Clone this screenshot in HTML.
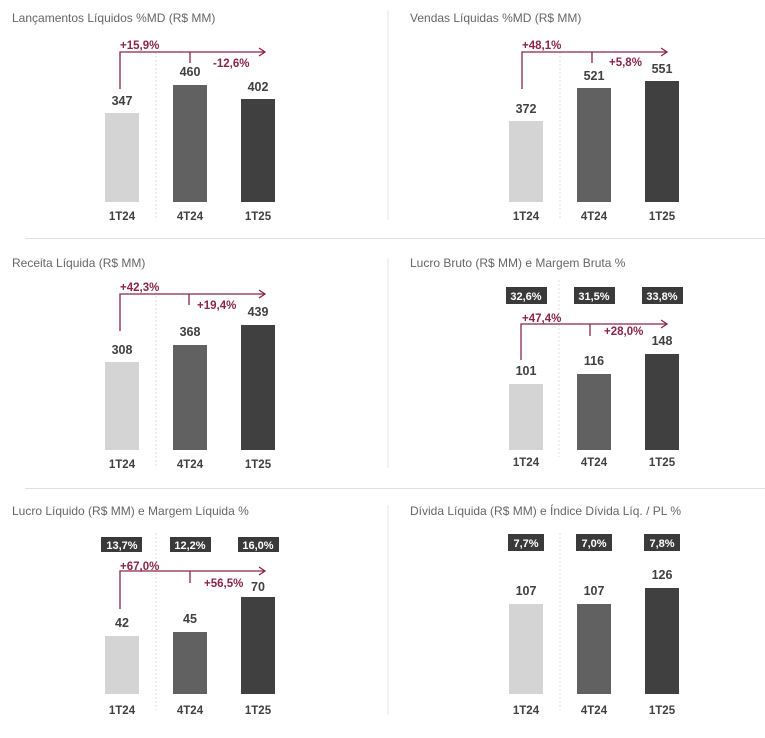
<!DOCTYPE html>
<html><head><meta charset="utf-8"><style>
body{margin:0;background:#fff}
svg{display:block}
.t{font:12px "Liberation Sans",sans-serif;fill:#666}
.v{font:bold 12.5px "Liberation Sans",sans-serif;fill:#404040;text-anchor:middle}
.c{font:bold 11.5px "Liberation Sans",sans-serif;fill:#404040;text-anchor:middle}
.p{font:bold 11.5px "Liberation Sans",sans-serif;fill:#8a2546}
.b{font:bold 11px "Liberation Sans",sans-serif;fill:#fff;text-anchor:middle}
.a{stroke:#8a2546;stroke-width:1.3;fill:none}
.d{stroke:#ddd;stroke-width:1;stroke-dasharray:2,2}
</style></head><body>
<svg width="765" height="738" viewBox="0 0 765 738">
<line x1="388" y1="10" x2="388" y2="220" stroke="#e6e6e6"/>
<line x1="388" y1="258" x2="388" y2="468" stroke="#e6e6e6"/>
<line x1="388" y1="505" x2="388" y2="715" stroke="#e6e6e6"/>
<line x1="25" y1="238.5" x2="765" y2="238.5" stroke="#e0e0e0"/>
<line x1="25" y1="488.5" x2="765" y2="488.5" stroke="#e0e0e0"/>

<!-- Panel 1 -->
<text class="t" x="12" y="22">Lançamentos Líquidos %MD (R$ MM)</text>
<line class="d" x1="156" y1="52" x2="156" y2="218"/>
<rect x="105" y="113" width="34" height="89" fill="#d4d4d4"/>
<rect x="173" y="85" width="34" height="117" fill="#616161"/>
<rect x="241" y="99" width="34" height="103" fill="#404040"/>
<text class="v" x="122" y="105">347</text>
<text class="v" x="190" y="76">460</text>
<text class="v" x="258" y="91">402</text>
<path class="a" d="M120 89V52H264M259 48L265 52L259 56M190 52V63"/>
<text class="p" x="120" y="49">+15,9%</text>
<text class="p" x="213" y="67">-12,6%</text>
<text class="c" x="122" y="220">1T24</text><text class="c" x="190" y="220">4T24</text><text class="c" x="258" y="220">1T25</text>

<!-- Panel 2 -->
<text class="t" x="410" y="22">Vendas Líquidas %MD (R$ MM)</text>
<line class="d" x1="560" y1="52" x2="560" y2="218"/>
<rect x="509" y="121" width="34" height="81" fill="#d4d4d4"/>
<rect x="577" y="88" width="34" height="114" fill="#616161"/>
<rect x="645" y="81" width="34" height="121" fill="#404040"/>
<text class="v" x="526" y="113">372</text>
<text class="v" x="594" y="80">521</text>
<text class="v" x="662" y="73">551</text>
<path class="a" d="M522 89V52H666M661 48L667 52L661 56M592 52V63"/>
<text class="p" x="522" y="49">+48,1%</text>
<text class="p" x="609" y="66">+5,8%</text>
<text class="c" x="526" y="220">1T24</text><text class="c" x="594" y="220">4T24</text><text class="c" x="662" y="220">1T25</text>

<!-- Panel 3 -->
<text class="t" x="12" y="267">Receita Líquida (R$ MM)</text>
<line class="d" x1="156" y1="292" x2="156" y2="467"/>
<rect x="105" y="362" width="34" height="88" fill="#d4d4d4"/>
<rect x="173" y="345" width="34" height="105" fill="#616161"/>
<rect x="241" y="325" width="34" height="125" fill="#404040"/>
<text class="v" x="122" y="354">308</text>
<text class="v" x="190" y="336">368</text>
<text class="v" x="258" y="316">439</text>
<path class="a" d="M120 331V294H264M259 290L265 294L259 298M189 294V305"/>
<text class="p" x="120" y="291">+42,3%</text>
<text class="p" x="197" y="309">+19,4%</text>
<text class="c" x="122" y="468">1T24</text><text class="c" x="190" y="468">4T24</text><text class="c" x="258" y="468">1T25</text>

<!-- Panel 4 -->
<text class="t" x="410" y="267">Lucro Bruto (R$ MM) e Margem Bruta %</text>
<line class="d" x1="559" y1="280" x2="559" y2="457"/>
<rect x="506" y="287" width="41" height="17" fill="#3a3a3a"/><text class="b" x="526" y="300">32,6%</text>
<rect x="574" y="287" width="41" height="17" fill="#3a3a3a"/><text class="b" x="594" y="300">31,5%</text>
<rect x="642" y="287" width="41" height="17" fill="#3a3a3a"/><text class="b" x="662" y="300">33,8%</text>
<rect x="509" y="384" width="34" height="66" fill="#d4d4d4"/>
<rect x="577" y="374" width="34" height="76" fill="#616161"/>
<rect x="645" y="354" width="34" height="96" fill="#404040"/>
<text class="v" x="526" y="375">101</text>
<text class="v" x="594" y="365">116</text>
<text class="v" x="662" y="345">148</text>
<path class="a" d="M521 360V324H666M661 320L667 324L661 328M590 324V336"/>
<text class="p" x="522" y="322">+47,4%</text>
<text class="p" x="604" y="335">+28,0%</text>
<text class="c" x="526" y="466">1T24</text><text class="c" x="594" y="466">4T24</text><text class="c" x="662" y="466">1T25</text>

<!-- Panel 5 -->
<text class="t" x="12" y="515">Lucro Líquido (R$ MM) e Margem Líquida %</text>
<line class="d" x1="156" y1="533" x2="156" y2="710"/>
<rect x="101" y="537" width="41" height="15" fill="#3a3a3a"/><text class="b" x="122" y="549">13,7%</text>
<rect x="170" y="537" width="41" height="15" fill="#3a3a3a"/><text class="b" x="190" y="549">12,2%</text>
<rect x="238" y="537" width="41" height="15" fill="#3a3a3a"/><text class="b" x="258" y="549">16,0%</text>
<rect x="105" y="636" width="34" height="58" fill="#d4d4d4"/>
<rect x="173" y="632" width="34" height="62" fill="#616161"/>
<rect x="241" y="597" width="34" height="97" fill="#404040"/>
<text class="v" x="122" y="627">42</text>
<text class="v" x="190" y="623">45</text>
<text class="v" x="258" y="591">70</text>
<path class="a" d="M120 609V571H264M259 567L265 571L259 575M190 571V583"/>
<text class="p" x="120" y="570">+67,0%</text>
<text class="p" x="204" y="587">+56,5%</text>
<text class="c" x="122" y="714">1T24</text><text class="c" x="190" y="714">4T24</text><text class="c" x="258" y="714">1T25</text>

<!-- Panel 6 -->
<text class="t" x="410" y="515">Dívida Líquida (R$ MM) e Índice Dívida Líq. / PL %</text>
<line class="d" x1="560" y1="533" x2="560" y2="710"/>
<rect x="508" y="534" width="36" height="17" fill="#3a3a3a"/><text class="b" x="526" y="547">7,7%</text>
<rect x="576" y="534" width="36" height="17" fill="#3a3a3a"/><text class="b" x="594" y="547">7,0%</text>
<rect x="644" y="534" width="36" height="17" fill="#3a3a3a"/><text class="b" x="662" y="547">7,8%</text>
<rect x="509" y="604" width="34" height="90" fill="#d4d4d4"/>
<rect x="577" y="604" width="34" height="90" fill="#616161"/>
<rect x="645" y="588" width="34" height="106" fill="#404040"/>
<text class="v" x="526" y="595">107</text>
<text class="v" x="594" y="595">107</text>
<text class="v" x="662" y="579">126</text>
<text class="c" x="526" y="714">1T24</text><text class="c" x="594" y="714">4T24</text><text class="c" x="662" y="714">1T25</text>
</svg>
</body></html>
